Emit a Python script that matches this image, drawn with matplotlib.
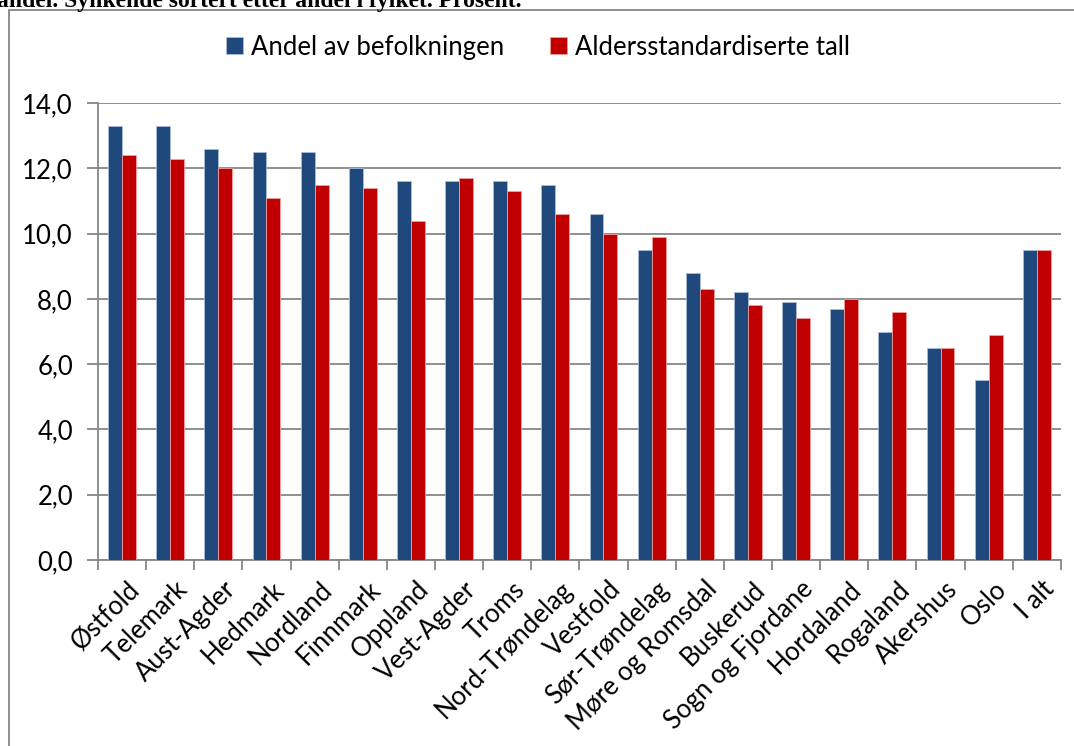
import matplotlib
matplotlib.use("Agg")
import matplotlib.pyplot as plt
import numpy as np
from matplotlib.patches import Rectangle

fylker = [
    "Østfold", "Telemark", "Aust-Agder", "Hedmark", "Nordland", "Finnmark",
    "Oppland", "Vest-Agder", "Troms", "Nord-Trøndelag", "Vestfold",
    "Sør-Trøndelag", "Møre og Romsdal", "Buskerud", "Sogn og Fjordane",
    "Hordaland", "Rogaland", "Akershus", "Oslo", "I alt",
]
andel = [13.3, 13.3, 12.6, 12.5, 12.5, 12.0, 11.6, 11.6, 11.6, 11.5,
         10.6, 9.5, 8.8, 8.2, 7.9, 7.7, 7.0, 6.5, 5.5, 9.5]
aldersstand = [12.4, 12.3, 12.0, 11.1, 11.5, 11.4, 10.4, 11.7, 11.3, 10.6,
               10.0, 9.9, 8.3, 7.8, 7.4, 8.0, 7.6, 6.5, 6.9, 9.5]
yticks = [0, 2, 4, 6, 8, 10, 12, 14]

plt.rcParams["font.family"] = ["Lato", "DejaVu Sans"]
FS = 18.5

fig = plt.figure(figsize=(10.74, 7.46), dpi=100)
ax = fig.add_axes([0.0912, 0.2493, 0.8966, 0.6126])

x = np.arange(len(fylker))
w = 0.29
ax.bar(x - w / 2, andel, width=w, color="#1F497D", edgecolor="#A9BCD8",
       linewidth=0.6, label="Andel av befolkningen", zorder=3)
ax.bar(x + w / 2, aldersstand, width=w, color="#C00000", edgecolor="#F0A0A0",
       linewidth=0.6, label="Aldersstandardiserte tall", zorder=3)

ax.set_xlim(-0.5, len(fylker) - 0.5)
ax.set_ylim(0, 14)
ax.set_yticks(yticks)
ax.set_yticklabels([f"{v:.1f}".replace(".", ",") for v in yticks], fontsize=FS)
ax.yaxis.grid(True, color="#868686", linewidth=1.3, zorder=0)

ax.set_xticks(x + 0.1)
ax.set_xticklabels(fylker, rotation=45, ha="right", rotation_mode="anchor",
                   fontsize=FS)
ax.tick_params(axis="x", length=0, pad=12)
ax.set_xticks(np.arange(len(fylker) + 1) - 0.5, minor=True)
ax.tick_params(axis="x", which="minor", length=7, color="#868686", width=1.3)
ax.tick_params(axis="y", length=8, color="#868686", width=1.3, pad=10)

for side in ["top", "right"]:
    ax.spines[side].set_visible(False)
for side in ["left", "bottom"]:
    ax.spines[side].set_color("#868686")
    ax.spines[side].set_linewidth(1.3)

ax.legend(loc="upper center", bbox_to_anchor=(0.457, 1.2), ncol=2,
          frameon=False, fontsize=FS, handlelength=0.65, handleheight=0.65,
          handletextpad=0.3, columnspacing=1.8)

# outer chart frame (bottom and right fall outside the picture)
fig.patches.append(Rectangle((0.008, -0.05), 1.05, 1.036, transform=fig.transFigure,
                             fill=False, edgecolor="#868686", linewidth=1.3))

fig.text(-0.003, 0.998, "andel. Synkende sortert etter andel i fylket. Prosent.",
         fontsize=17, fontweight="bold", family=["Liberation Serif", "DejaVu Serif"],
         ha="left", va="center")

fig.savefig("out.png", dpi=100)
